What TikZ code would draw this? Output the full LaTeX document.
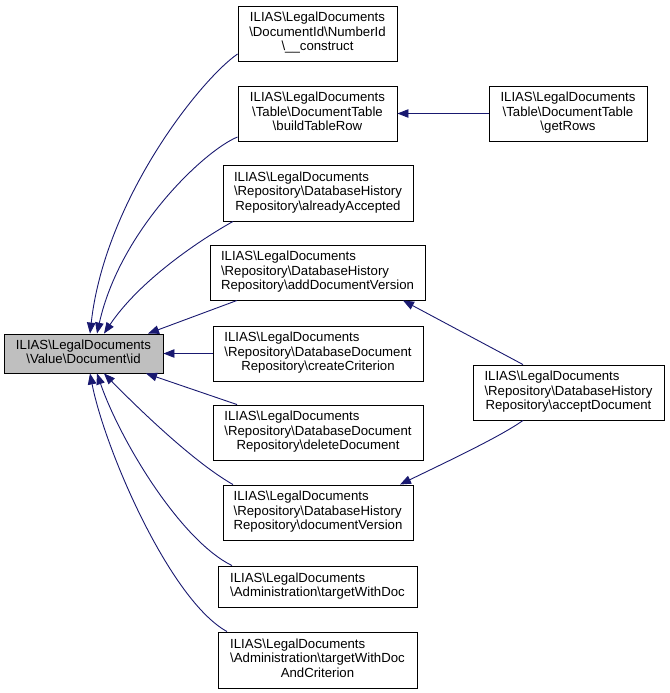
\documentclass[tikz,border=0pt]{standalone}
\usepackage{fontspec}
\setmainfont{Liberation Sans}
\usetikzlibrary{arrows.meta}
\definecolor{edgeblue}{HTML}{191970}
\definecolor{maingray}{HTML}{BFBFBF}
\newcommand\bs{\textbackslash}
\newcommand\lbtab[2]{\begin{tabular}{@{}#1@{}}#2\end{tabular}}
\newcommand\lastc[1]{\multicolumn{1}{@{}c@{}}{#1}}
\begin{document}
\begin{tikzpicture}[x=1pt,y=-1pt,
  fnbox/.style={draw=black, line width=0.9pt, fill=white, inner sep=0pt, align=center,
    font=\fontsize{13.2}{14.5}\selectfont},
  edge/.style={draw=edgeblue, line width=0.9pt, -{Triangle[length=11pt,width=8.5pt]}}]
\useasboundingbox (0,0) rectangle (669,693);

\node[fnbox, fill=maingray, minimum width=159pt, minimum height=39pt] (main) at (83.5,353.5)
  {\lbtab{c}{ILIAS\bs LegalDocuments\\\bs Value\bs Document\bs id}};

\node[fnbox, minimum width=159pt, minimum height=55pt] (n1) at (317.5,33.5)
  {\lbtab{c}{ILIAS\bs LegalDocuments\\\bs DocumentId\bs NumberId\\\bs\_\_construct}};
\node[fnbox, minimum width=159pt, minimum height=55pt] (n2) at (317.5,113.5)
  {\lbtab{c}{ILIAS\bs LegalDocuments\\\bs Table\bs DocumentTable\\\bs buildTableRow}};
\node[fnbox, minimum width=190pt, minimum height=56pt] (n3) at (318,193)
  {\lbtab{l}{ILIAS\bs LegalDocuments\\\bs Repository\bs DatabaseHistory\\\lastc{Repository\bs alreadyAccepted}}};
\node[fnbox, minimum width=215pt, minimum height=55pt] (n4) at (317.5,272.5)
  {\lbtab{l}{ILIAS\bs LegalDocuments\\\bs Repository\bs DatabaseHistory\\\lastc{Repository\bs addDocumentVersion}}};
\node[fnbox, minimum width=210pt, minimum height=55pt] (n5) at (318,353.5)
  {\lbtab{l}{ILIAS\bs LegalDocuments\\\bs Repository\bs DatabaseDocument\\\lastc{Repository\bs createCriterion}}};
\node[fnbox, minimum width=210pt, minimum height=55pt] (n6) at (318,432.5)
  {\lbtab{l}{ILIAS\bs LegalDocuments\\\bs Repository\bs DatabaseDocument\\\lastc{Repository\bs deleteDocument}}};
\node[fnbox, minimum width=190pt, minimum height=55pt] (n7) at (318,512.5)
  {\lbtab{l}{ILIAS\bs LegalDocuments\\\bs Repository\bs DatabaseHistory\\\lastc{Repository\bs documentVersion}}};
\node[fnbox, minimum width=199pt, minimum height=41pt] (n8) at (317.5,586.5)
  {\lbtab{l}{ILIAS\bs LegalDocuments\\\bs Administration\bs targetWithDoc}};
\node[fnbox, minimum width=199pt, minimum height=56pt] (n9) at (317.5,660)
  {\lbtab{l}{ILIAS\bs LegalDocuments\\\bs Administration\bs targetWithDoc\\\lastc{AndCriterion}}};

\node[fnbox, minimum width=158pt, minimum height=55pt] (getrows) at (568,113.5)
  {\lbtab{c}{ILIAS\bs LegalDocuments\\\bs Table\bs DocumentTable\\\bs getRows}};
\node[fnbox, minimum width=191pt, minimum height=55pt] (accept) at (568.5,392.5)
  {\lbtab{l}{ILIAS\bs LegalDocuments\\\bs Repository\bs DatabaseHistory\\\lastc{Repository\bs acceptDocument}}};

\draw[edge] ([yshift=-20.5pt]n1.west) .. controls (200,80) and (105,200) .. ([xshift=6.5pt]main.north);
\draw[edge] ([yshift=-23.5pt]n2.west) .. controls (205,150) and (120,230) .. ([xshift=13.5pt]main.north);
\draw[edge] ([xshift=-85pt]n3.south) .. controls (200,240) and (140,280) .. ([xshift=20.5pt]main.north);
\draw[edge] ([xshift=-80.5pt]n4.south) -- ([xshift=64.5pt]main.north);
\draw[edge] (n5.west) -- (main.east);
\draw[edge] ([xshift=-81pt]n6.north) -- ([xshift=62.5pt]main.south);
\draw[edge] ([xshift=-85pt]n7.north) .. controls (190,460) and (130,400) .. ([xshift=20.5pt]main.south);
\draw[edge] ([xshift=-85.5pt]n8.north) .. controls (180,540) and (120,440) .. ([xshift=13.5pt]main.south);
\draw[edge] ([xshift=-90.5pt]n9.north) .. controls (170,600) and (105,450) .. ([xshift=6.5pt]main.south);

\draw[edge] (getrows.west) -- (n2.east);
\draw[edge] ([xshift=-45.5pt]accept.north) -- ([xshift=85.5pt]n4.south);
\draw[edge] ([xshift=-45.5pt]accept.south) .. controls (500,437) and (440,465) .. ([xshift=82pt]n7.north);
\end{tikzpicture}
\end{document}
